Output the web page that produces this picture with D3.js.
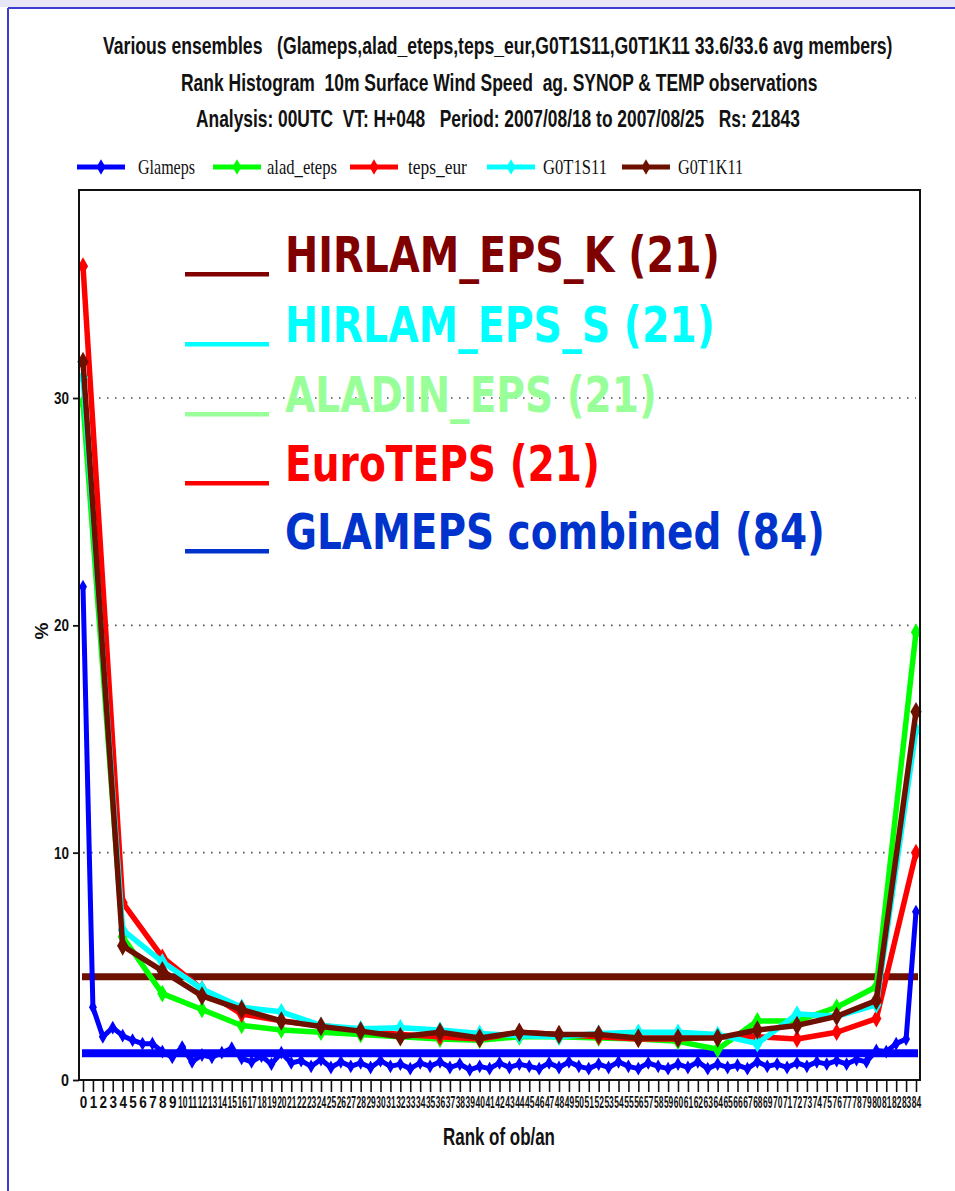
<!DOCTYPE html>
<html>
<head>
<meta charset="utf-8">
<script src="https://cdn.jsdelivr.net/npm/d3@7"></script>
<style>
  html, body { margin: 0; padding: 0; background: #ffffff; }
  svg { display: block; }
</style>
</head>
<body>
<svg id="chart" width="955" height="1191"></svg>
<script>
// ---- data -------------------------------------------------------------
// Glameps: 84 members -> ranks 0..84
const glamepsRanks = d3.range(0, 85);
const glameps = [
  21.7, 3.2, 1.9, 2.3, 1.95, 1.75, 1.6, 1.6, 1.25, 1.0,
  1.45, 0.8, 1.1, 1.0, 1.2, 1.4, 0.95, 0.8, 1.05, 0.7,
  1.2, 0.75, 0.85, 0.6, 0.9, 0.55, 0.8, 0.6, 0.75, 0.55,
  0.85, 0.6, 0.7, 0.5, 0.75, 0.6, 0.8, 0.55, 0.7, 0.45,
  0.6, 0.5, 0.75, 0.55, 0.7, 0.6, 0.5, 0.75, 0.55, 0.8,
  0.6, 0.5, 0.7, 0.55, 0.8, 0.6, 0.5, 0.75, 0.6, 0.5,
  0.7, 0.55, 0.8, 0.5, 0.7, 0.55, 0.65, 0.5, 0.8, 0.6,
  0.7, 0.55, 0.75, 0.6, 0.8, 0.7, 0.85, 0.7, 0.9, 0.8,
  1.3, 1.25, 1.6, 1.8, 7.4
];

// 21-member ensembles -> ranks 0..21, spread over the same 0..84 axis
const smallRanks = d3.range(0, 22);
const aladEteps = [29.8, 6.3, 3.8, 3.1, 2.4, 2.2, 2.1, 2.0, 1.9, 1.8, 1.75,
                   1.9, 1.9, 1.85, 1.8, 1.7, 1.35, 2.6, 2.6, 3.2, 4.1, 19.7];
const tepsEur   = [35.8, 7.8, 5.4, 4.0, 2.9, 2.6, 2.4, 2.2, 2.0, 1.9, 1.8,
                   2.1, 2.0, 1.9, 1.8, 1.8, 1.9, 1.9, 1.8, 2.1, 2.7, 10.0];
const g0t1s11   = [30.9, 6.6, 5.2, 4.0, 3.2, 3.0, 2.4, 2.25, 2.3, 2.2, 2.05,
                   1.95, 1.9, 2.05, 2.1, 2.1, 2.0, 1.6, 2.9, 2.8, 3.3, 15.4];
const g0t1k11   = [31.6, 5.9, 4.8, 3.7, 3.1, 2.6, 2.35, 2.15, 1.9, 2.1, 1.85,
                   2.1, 2.0, 2.0, 1.85, 1.85, 1.85, 2.2, 2.4, 2.8, 3.5, 16.2];

// flat (perfectly reliable) reference levels, in %
const flatLevels = [
  { name: "flat21", value: 100 / 22, color: "#6e1000", width: 7 },
  { name: "flat84", value: 100 / 85, color: "#0000ff", width: 8 }
];

const seriesNames  = ["Glameps", "alad_eteps", "teps_eur", "G0T1S11", "G0T1K11"];
const seriesColors = ["#0000ff", "#00ff00", "#ff0000", "#00ffff", "#6e1000"];

const yTicks = [0, 10, 20, 30];

const titleLines = [
  "Various ensembles   (Glameps,alad_eteps,teps_eur,G0T1S11,G0T1K11 33.6/33.6 avg members)",
  "Rank Histogram  10m Surface Wind Speed  ag. SYNOP & TEMP observations",
  "Analysis: 00UTC  VT: H+048   Period: 2007/08/18 to 2007/08/25   Rs: 21843"
];

const bigLabels = ["HIRLAM_EPS_K (21)", "HIRLAM_EPS_S (21)", "ALADIN_EPS (21)",
                   "EuroTEPS (21)", "GLAMEPS combined (84)"];
const bigColors = ["#800000", "#00ffff", "#99ff99", "#ff0000", "#0033cc"];

// ---- helpers ----------------------------------------------------------
const svg = d3.select("#chart");

// place a text so that it starts at x0 on baseline y0 and spans width w,
// squeezing the glyphs horizontally (narrow-font look)
function fitText(parent, str, x0, y0, w, style) {
  const t = parent.append("text")
    .attr("x", 0).attr("y", 0)
    .style("white-space", "pre")
    .text(str);
  Object.entries(style).forEach(([k, v]) => t.attr(k, v));
  const natural = t.node().getComputedTextLength();
  t.attr("transform", `translate(${x0},${y0}) scale(${w / natural},1)`);
  return t;
}

// ---- layout -----------------------------------------------------------
const box = { left: 79, right: 920, top: 190, bottom: 1080 };

const x   = d3.scaleLinear().domain([0, 84]).range([83, 916]);
const x21 = d3.scaleLinear().domain([0, 21]).range([83, 916]);
const y   = d3.scaleLinear().domain([0, 39.15]).range([1080, 190]);

// window frame
svg.append("rect").attr("x", 0).attr("y", 0).attr("width", 955).attr("height", 7).attr("fill", "#e6e6f6");
svg.append("line").attr("x1", 8).attr("x2", 955).attr("y1", 8).attr("y2", 8)
  .attr("stroke", "#3c3cd0").attr("stroke-width", 2);
svg.append("line").attr("x1", 8).attr("x2", 8).attr("y1", 8).attr("y2", 1191)
  .attr("stroke", "#3c3cd0").attr("stroke-width", 2);

// titles
const titleSpecs = [
  { x: 103, w: 790, base: 54 },
  { x: 181, w: 637, base: 91 },
  { x: 196, w: 604, base: 127 }
];
const titleStyle = {
  "font-family": "Liberation Sans, Arial, sans-serif",
  "font-weight": "bold", "font-size": 23, "fill": "#111"
};
titleLines.forEach((line, i) => {
  const s = titleSpecs[i];
  fitText(svg, line, s.x, s.base, s.w, titleStyle);
});

// legend
const legendSpecs = [
  { l: 77,  t: 138, w: 57 },
  { l: 213, t: 267, w: 70 },
  { l: 350, t: 408, w: 59 },
  { l: 487, t: 543, w: 64 },
  { l: 622, t: 678, w: 65 }
];
const legendY = 167;
const leg = svg.append("g");
const legendStyle = {
  "font-family": "Liberation Serif, Times New Roman, serif",
  "font-size": 21, "fill": "#111"
};
seriesNames.forEach((name, i) => {
  const s = legendSpecs[i];
  leg.append("line").attr("x1", s.l).attr("x2", s.l + 48)
    .attr("y1", legendY).attr("y2", legendY)
    .attr("stroke", seriesColors[i]).attr("stroke-width", 5);
  leg.append("path")
    .attr("d", d3.symbol(d3.symbolDiamond, 70)())
    .attr("transform", `translate(${s.l + 24},${legendY})`)
    .attr("fill", seriesColors[i]);
  fitText(leg, name, s.t, legendY + 7, s.w, legendStyle);
});

// plot box
const plot = svg.append("g");

// dotted grid
plot.selectAll("line.grid").data(yTicks.filter(v => v > 0)).join("line")
  .attr("class", "grid")
  .attr("x1", box.left + 4).attr("x2", box.right - 4)
  .attr("y1", d => y(d)).attr("y2", d => y(d))
  .attr("stroke", "#555").attr("stroke-width", 1.6)
  .attr("stroke-dasharray", "1.6,6.4");

// reference levels
plot.selectAll("line.flat").data(flatLevels).join("line")
  .attr("class", "flat")
  .attr("x1", 82).attr("x2", 918)
  .attr("y1", d => y(d.value)).attr("y2", d => y(d.value))
  .attr("stroke", d => d.color).attr("stroke-width", d => d.width);

// series
const allSeries = [
  { values: glameps,   ranks: glamepsRanks, sx: x,   color: seriesColors[0], lw: 5,   ms: 55 },
  { values: aladEteps, ranks: smallRanks,   sx: x21, color: seriesColors[1], lw: 5.5, ms: 90 },
  { values: tepsEur,   ranks: smallRanks,   sx: x21, color: seriesColors[2], lw: 5.5, ms: 90 },
  { values: g0t1s11,   ranks: smallRanks,   sx: x21, color: seriesColors[3], lw: 5.5, ms: 90 },
  { values: g0t1k11,   ranks: smallRanks,   sx: x21, color: seriesColors[4], lw: 5.5, ms: 110 }
];
allSeries.forEach(s => {
  const pts = s.ranks.map((r, i) => [s.sx(r), y(s.values[i])]);
  plot.append("path")
    .attr("d", d3.line()(pts))
    .attr("fill", "none")
    .attr("stroke", s.color)
    .attr("stroke-width", s.lw)
    .attr("stroke-linejoin", "round");
  plot.append("g").selectAll("path").data(pts).join("path")
    .attr("d", d3.symbol(d3.symbolDiamond, s.ms)())
    .attr("transform", d => `translate(${d[0]},${d[1]})`)
    .attr("fill", s.color);
});

// box border
plot.append("rect")
  .attr("x", box.left).attr("y", box.top)
  .attr("width", box.right - box.left).attr("height", box.bottom - box.top)
  .attr("fill", "none").attr("stroke", "#111").attr("stroke-width", 2);

// y axis
const yAxis = svg.append("g")
  .attr("transform", `translate(${box.left},0)`)
  .call(d3.axisLeft(y).tickValues(yTicks).tickSize(6).tickPadding(4));
yAxis.select(".domain").remove();
yAxis.selectAll(".tick line").attr("stroke", "#111").attr("stroke-width", 1.8);
yAxis.selectAll(".tick text")
  .attr("font-family", "Liberation Sans, Arial, sans-serif")
  .attr("font-weight", "bold")
  .attr("font-size", 17)
  .attr("fill", "#111")
  .attr("textLength", d => d < 10 ? 8 : 15)
  .attr("lengthAdjust", "spacingAndGlyphs");

// x axis: one tick per rank, labels squeezed into the 10px pitch
const xAxis = svg.append("g")
  .attr("transform", `translate(0,${box.bottom})`)
  .call(d3.axisBottom(x).tickValues(glamepsRanks).tickSize(12).tickPadding(4));
xAxis.select(".domain").remove();
xAxis.selectAll(".tick line").attr("stroke", "#111").attr("stroke-width", 1.6);
xAxis.selectAll(".tick text")
  .attr("font-family", "Liberation Sans, Arial, sans-serif")
  .attr("font-weight", "bold")
  .attr("font-size", 17)
  .attr("fill", "#111")
  .attr("textLength", d => d < 10 ? 7.5 : 9.4)
  .attr("lengthAdjust", "spacingAndGlyphs");

// axis titles
fitText(svg, "Rank of ob/an", 443, 1145, 112, {
  "font-family": "Liberation Sans, Arial, sans-serif",
  "font-weight": "bold", "font-size": 23, "fill": "#111"
});
svg.append("text")
  .attr("transform", "translate(48,631) rotate(-90)")
  .attr("text-anchor", "middle")
  .attr("font-family", "Liberation Sans, Arial, sans-serif")
  .attr("font-weight", "bold").attr("font-size", 19).attr("fill", "#111")
  .text("%");

// ensemble name overlay
const bigBase = [272, 342, 412, 481, 549];
const bigWidth = [435, 430, 372, 315, 540];
const big = svg.append("g");
bigLabels.forEach((label, i) => {
  big.append("rect")
    .attr("x", 185).attr("y", bigBase[i]).attr("width", 84).attr("height", 4.5)
    .attr("fill", bigColors[i]);
  fitText(big, label, 285, bigBase[i], bigWidth[i], {
    "font-family": "DejaVu Sans, Verdana, sans-serif",
    "font-weight": "bold", "font-size": 49, "fill": bigColors[i]
  });
});
</script>
</body>
</html>
